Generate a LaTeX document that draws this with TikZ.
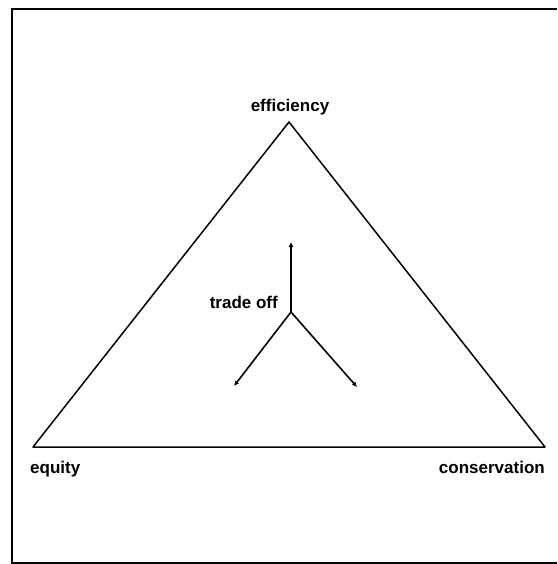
\documentclass[tikz,border=0pt]{standalone}
\usepackage{fontspec}
\setmainfont{Liberation Sans}
\usetikzlibrary{
  arrows.meta,
  positioning
}

\begin{document}
\begin{tikzpicture}[
    x=1pt, y=-1pt,
    >={Latex[length=5pt,width=5pt]},
    lbl/.style={font=\bfseries\fontsize{17}{19}\selectfont, inner sep=1pt}
    ]
    
    \useasboundingbox (0,0) rectangle (557,564);
    
    % frame (right side not drawn)
    \draw[line width=2.2pt] (557,9)--(12,9)--(12,563)--(557,563);
    
    \coordinate (eff) at (289,122);
    \coordinate (equ) at (33,447);
    \coordinate (con) at (545,447);
    
    \draw[line width=1.5pt,line join=round] (eff)--(equ)--(con)--cycle;
    
    \node[lbl,anchor=base] (efflbl) at (290,112) {efficiency};
    \node[lbl,anchor=base west] (equlbl) at (29,473) {equity};
    \node[lbl,anchor=base east] (conlbl) at (546,473) {conservation};
    
    \coordinate (mid) at (291,312);
    \coordinate (up) at (291,242);
    \coordinate (dl) at (234,386);
    \coordinate (dr) at (357,387);
    
    \draw[->,line width=1.6pt] (mid)--(up);
    \draw[->,line width=1.6pt] (mid)--(dl);
    \draw[->,line width=1.6pt] (mid)--(dr);
    
    \node[lbl,anchor=base east] (trade) at (279,308) {trade off};
    
    \end{tikzpicture}
\end{document}
